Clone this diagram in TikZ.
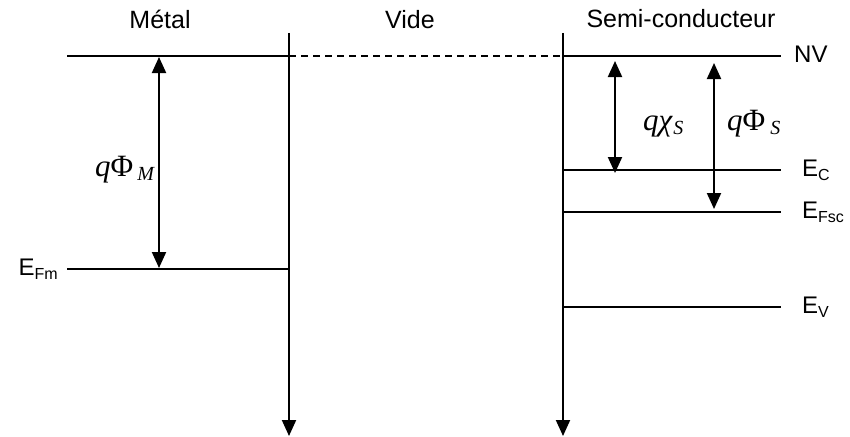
\documentclass[tikz,border=0pt]{standalone}
\usepackage{fontspec}
\setmainfont{Liberation Sans}
\newfontfamily\timesf{Liberation Serif}
\usetikzlibrary{arrows.meta}
\newcommand{\sublbl}[1]{{\fontsize{16}{18}\selectfont\raisebox{-4pt}{#1}}}
\newcommand{\submath}[1]{{\fontsize{20}{22}\selectfont\itshape\raisebox{-4pt}{#1}}}
\begin{document}
\begin{tikzpicture}[x=1pt,y=-1pt,
  axis/.style={line width=2pt,-{Triangle[width=14pt,length=16pt]}},
  level/.style={line width=1.4pt},
  dbl/.style={line width=2pt,{Triangle[width=14pt,length=16pt]}-{Triangle[width=14pt,length=16pt]}},
  ttl/.style={font=\fontsize{25}{28}\selectfont,inner sep=0pt,anchor=base},
  lbl/.style={font=\fontsize{24}{27}\selectfont,inner sep=0pt},
  mlbl/.style={font=\fontsize{31}{34}\selectfont\timesf,inner sep=0pt,anchor=base west}]
\useasboundingbox (0,0) rectangle (850,436);
% axes
\coordinate (mtop) at (289,33);
\coordinate (mbot) at (289,436);
\coordinate (stop) at (563,33);
\coordinate (sbot) at (563,436);
\draw[axis] (mtop) -- (mbot);
\draw[axis] (stop) -- (sbot);
% levels
\coordinate (nvL) at (67,56);
\coordinate (nvM) at (289,56);
\coordinate (nvS) at (563,56);
\coordinate (nvR) at (781,56);
\draw[level] (nvL) -- (nvM);
\draw[level,dash pattern=on 7pt off 5pt] (nvM) -- (nvS);
\draw[level] (nvS) -- (nvR);
\coordinate (fmL) at (67,269);
\coordinate (fmR) at (289,269);
\draw[level] (fmL) -- (fmR);
\coordinate (ecL) at (563,170);
\coordinate (ecR) at (781,170);
\draw[level] (ecL) -- (ecR);
\coordinate (efL) at (563,212);
\coordinate (efR) at (781,212);
\draw[level] (efL) -- (efR);
\coordinate (evL) at (563,307);
\coordinate (evR) at (781,307);
\draw[level] (evL) -- (evR);
% double arrows
\coordinate (pmT) at (159,57);
\coordinate (pmB) at (159,268);
\draw[dbl] (pmT) -- (pmB);
\coordinate (chT) at (615,61);
\coordinate (chB) at (615,173);
\draw[dbl] (chT) -- (chB);
\coordinate (psT) at (714,63);
\coordinate (psB) at (714,209);
\draw[dbl] (psT) -- (psB);
% titles
\node[ttl] (tm) at (160,29) {Métal};
\node[ttl] (tv) at (410,29) {Vide};
\node[ttl] (ts) at (681,28) {Semi-conducteur};
% labels
\node[lbl,anchor=base west] (nv) at (794,63) {NV};
\node[lbl,anchor=base west] (ec) at (802,176) {E\sublbl{C}};
\node[lbl,anchor=base west] (ef) at (802,218) {E\sublbl{Fsc}};
\node[lbl,anchor=base west] (ev) at (802,313) {E\sublbl{V}};
\node[lbl,anchor=base east] (efm) at (58,275) {E\sublbl{Fm}};
% math labels
\node[mlbl] (lpm) at (95,176) {\itshape q\upshape Φ\hspace{4pt}\submath{M}};
\node[mlbl] (lch) at (643,130) {\itshape qχ\hspace{1pt}\submath{S}};
\node[mlbl] (lps) at (727,130) {\itshape q\upshape Φ\hspace{5pt}\submath{S}};
\end{tikzpicture}
\end{document}
